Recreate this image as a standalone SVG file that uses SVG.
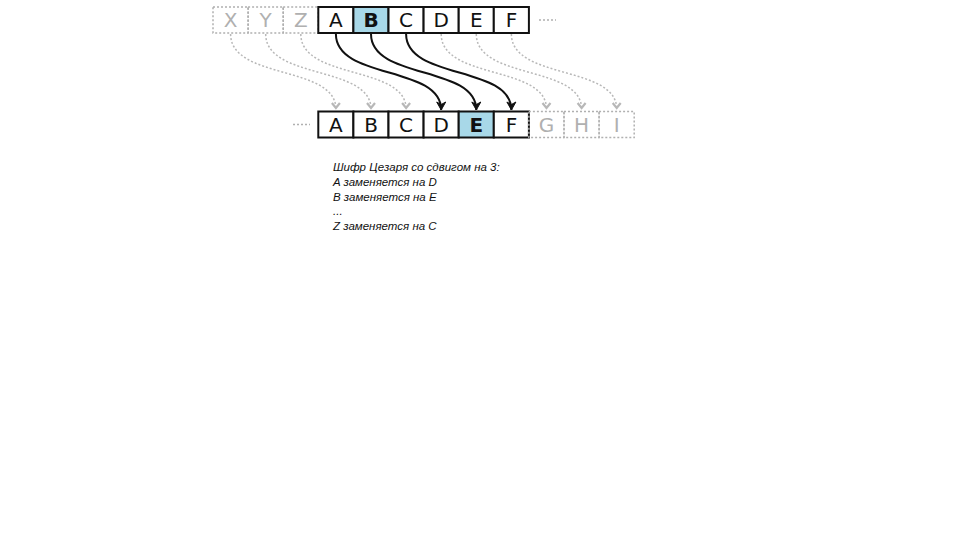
<svg xmlns="http://www.w3.org/2000/svg" width="960" height="540" viewBox="0 0 960 540">
<defs>
<style>
.cell{fill:#fff;stroke:#111;stroke-width:2}
.hl{fill:#a8d8e8}
.ghost{fill:none;stroke:#b0b0b0;stroke-width:1.5;stroke-dasharray:2 2}
.lt{font-family:"DejaVu Sans",sans-serif;font-size:20px;text-anchor:middle;fill:#111}
.lg{font-family:"DejaVu Sans",sans-serif;font-size:20px;text-anchor:middle;fill:#b0b0b0}
.b{font-weight:bold}
.blk{fill:none;stroke:#111;stroke-width:2}
.gry{fill:none;stroke:#b8b8b8;stroke-width:1.5;stroke-dasharray:2 2}
.dots{stroke:#b0b0b0;stroke-width:1.5;stroke-dasharray:2 2}
.cap{font-family:"Liberation Sans",Arial,sans-serif;font-style:italic;font-size:11.5px;fill:#111}
</style>
<marker id="ab" markerWidth="12" markerHeight="12" viewBox="0 0 12 12" refX="10" refY="6" orient="auto" markerUnits="userSpaceOnUse">
<path d="M2,1.5 L10,6 L2,10.5 L4.5,6 Z" fill="#111" stroke="#111" stroke-width="1" stroke-linejoin="round"/>
</marker>
<marker id="ag" markerWidth="12" markerHeight="12" viewBox="0 0 12 12" refX="10" refY="6" orient="auto" markerUnits="userSpaceOnUse">
<path d="M4,2 L9,6 L4,10" fill="none" stroke="#b8b8b8" stroke-width="2.2"/>
</marker>
</defs>

<g id="connectors">
<path class="gry" d="M230.6,34 C230.6,80 335.9,65 335.9,109" marker-end="url(#ag)"/>
<path class="gry" d="M265.7,34 C265.7,80 371,65 371,109" marker-end="url(#ag)"/>
<path class="gry" d="M300.8,34 C300.8,80 406.1,65 406.1,109" marker-end="url(#ag)"/>
<path class="gry" d="M441.2,34 C441.2,80 546.5,65 546.5,109" marker-end="url(#ag)"/>
<path class="gry" d="M476.3,34 C476.3,80 581.6,65 581.6,109" marker-end="url(#ag)"/>
<path class="gry" d="M511.4,34 C511.4,80 616.7,65 616.7,109" marker-end="url(#ag)"/>
<path class="blk" d="M335.9,34 C335.9,80 441.2,65 441.2,110" marker-end="url(#ab)"/>
<path class="blk" d="M371,34 C371,80 476.3,65 476.3,110" marker-end="url(#ab)"/>
<path class="blk" d="M406.1,34 C406.1,80 511.4,65 511.4,110" marker-end="url(#ab)"/>
</g>

<g id="top-row">
<g id="top-X"><rect class="ghost" x="213" y="7" width="35.1" height="26"/><text class="lg" x="230.6" y="27">X</text></g>
<g id="top-Y"><rect class="ghost" x="248.1" y="7" width="35.1" height="26"/><text class="lg" x="265.7" y="27">Y</text></g>
<g id="top-Z"><rect class="ghost" x="283.2" y="7" width="35.1" height="26"/><text class="lg" x="300.8" y="27">Z</text></g>
<g id="top-A"><rect class="cell" x="318.3" y="7" width="35.1" height="26"/><text class="lt" x="335.9" y="27">A</text></g>
<g id="top-B"><rect class="cell hl" x="353.4" y="7" width="35.1" height="26"/><text class="lt b" x="371" y="27">B</text></g>
<g id="top-C"><rect class="cell" x="388.5" y="7" width="35.1" height="26"/><text class="lt" x="406.1" y="27">C</text></g>
<g id="top-D"><rect class="cell" x="423.6" y="7" width="35.1" height="26"/><text class="lt" x="441.2" y="27">D</text></g>
<g id="top-E"><rect class="cell" x="458.7" y="7" width="35.1" height="26"/><text class="lt" x="476.3" y="27">E</text></g>
<g id="top-F"><rect class="cell" x="493.8" y="7" width="35.1" height="26"/><text class="lt" x="511.4" y="27">F</text></g>
<line class="dots" x1="539" y1="20" x2="556" y2="20"/>
</g>

<g id="bottom-row">
<line class="dots" x1="293" y1="124.5" x2="310" y2="124.5"/>
<g id="bot-A"><rect class="cell" x="318.3" y="111.5" width="35.1" height="26"/><text class="lt" x="335.9" y="131.5">A</text></g>
<g id="bot-B"><rect class="cell" x="353.4" y="111.5" width="35.1" height="26"/><text class="lt" x="371" y="131.5">B</text></g>
<g id="bot-C"><rect class="cell" x="388.5" y="111.5" width="35.1" height="26"/><text class="lt" x="406.1" y="131.5">C</text></g>
<g id="bot-D"><rect class="cell" x="423.6" y="111.5" width="35.1" height="26"/><text class="lt" x="441.2" y="131.5">D</text></g>
<g id="bot-E"><rect class="cell hl" x="458.7" y="111.5" width="35.1" height="26"/><text class="lt b" x="476.3" y="131.5">E</text></g>
<g id="bot-F"><rect class="cell" x="493.8" y="111.5" width="35.1" height="26"/><text class="lt" x="511.4" y="131.5">F</text></g>
<g id="bot-G"><rect class="ghost" x="528.9" y="111.5" width="35.1" height="26"/><text class="lg" x="546.5" y="131.5">G</text></g>
<g id="bot-H"><rect class="ghost" x="564" y="111.5" width="35.1" height="26"/><text class="lg" x="581.6" y="131.5">H</text></g>
<g id="bot-I"><rect class="ghost" x="599.1" y="111.5" width="35.1" height="26"/><text class="lg" x="616.7" y="131.5">I</text></g>
</g>

<g id="caption">
<text class="cap" x="333" y="170.5">Шифр Цезаря со сдвигом на 3:</text>
<text class="cap" x="333" y="185.5">A заменяется на D</text>
<text class="cap" x="333" y="200.5">B заменяется на E</text>
<text class="cap" x="333" y="215">...</text>
<text class="cap" x="333" y="229.5">Z заменяется на C</text>
</g>
</svg>
